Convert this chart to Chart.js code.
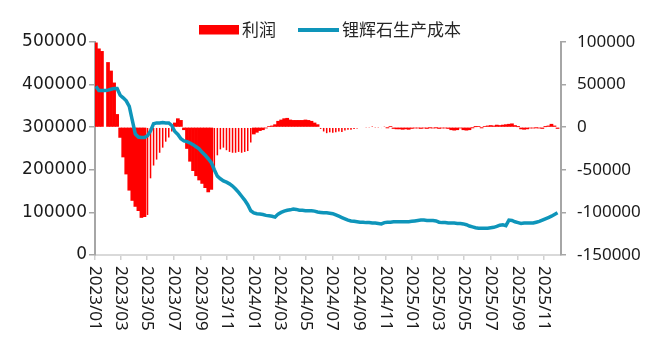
<!DOCTYPE html>
<html><head><meta charset="utf-8">
<script src="https://cdn.jsdelivr.net/npm/chart.js@4.4.0/dist/chart.umd.min.js"></script>
<style>html,body{margin:0;padding:0;background:#fff;}canvas{display:block;}</style>
</head><body>
<canvas id="c" width="650" height="351"></canvas>
<script>
const seriesNames = ['利润', '锂辉石生产成本'];
const startDate = '2023-01-01';
const firstObsOffsetDays = 2;   // first weekly observation (2023-01-03)
const obsStepDays = 7;          // weekly observations
const xTickLabels = ['2023/01','2023/03','2023/05','2023/07','2023/09','2023/11',
  '2024/01','2024/03','2024/05','2024/07','2024/09','2024/11',
  '2025/01','2025/03','2025/05','2025/07','2025/09','2025/11'];
const leftTicks = [0, 100000, 200000, 300000, 400000, 500000];
const rightTicks = [-150000, -100000, -50000, 0, 50000, 100000];

// 利润 (right axis)
const profit = [
  99000, 92000, 89000, null, 76000, 66000, 52000, 15000, -12000, -35000,
  -55000, -74000, -86000, -93000, -98000, -106000, -105000, -103000, -60000, -45000,
  -38000, -30000, -24000, -17000, -12000, -5000, 5000, 10000, 8000, -3000,
  -25000, -40000, -51000, -57000, -62000, -66000, -71000, -76000, -73000, -50000,
  -33000, -26000, -24000, -27000, -29000, -30000, -30000, -29000, -30000, -29000,
  -28000, -18000, -8000, -6000, -4000, -3000, -1000, 1000, 1500, 3000,
  7000, 8500, 10000, 10500, 8500, 8000, 8000, 8000, 8000, 8500,
  8000, 7000, 5000, 3000, -2000, -5000, -7000, -6000, -6500, -6000,
  -5000, -5500, -4000, -3000, -3000, -2000, -1500, -1000, -1000, -500,
  -500, 300, -500, -500, -1000, 500, -500, 1000, -1500, -2000,
  -2000, -2500, -2000, -2500, -1500, -1000, -1000, -1500, -1000, -1500,
  -500, -1000, -500, -1500, -1000, -1000, -1500, -3000, -3500, -3000,
  -1000, -3000, -3500, -3000, -500, 500, 1000, -500, 1000, 1500,
  2000, 1500, 2500, 2000, 2500, 3000, 3500, 4000, 2000, 500,
  -2000, -2500, -2000, -1000, -1000, -500, -1000, -1500, 500, 1500,
  3500, 1500, -1500
];

// 锂辉石生产成本 (left axis)
const cost = [
  396000, 386000, 386000, 386000, 387000, 389000, 391000, 391000, 375000, 369000,
  362000, 349000, 316000, 284000, 277000, 276000, 276000, 280000, 291000, 308000,
  310000, 310000, 311000, 310000, 310000, 304000, 290000, 283000, 273000, 268000,
  266000, 263000, 259000, 254000, 249000, 241000, 234000, 226000, 217000, 200000,
  185000, 179000, 174000, 171000, 167000, 162000, 155000, 147000, 138000, 129000,
  118000, 104000, 99000, 97000, 96000, 95000, 93000, 92000, 91000, 89000,
  96000, 100000, 103000, 105000, 106000, 108000, 107000, 105000, 105000, 104000,
  104000, 104000, 103000, 101000, 100000, 99000, 99000, 98000, 97000, 94000,
  91000, 88000, 85000, 82000, 80000, 79000, 78000, 77000, 77000, 76000,
  76000, 75000, 75000, 74000, 73000, 76000, 77000, 77000, 78000, 78000,
  78000, 78000, 78000, 78000, 79000, 80000, 81000, 82000, 82000, 81000,
  81000, 81000, 80000, 77000, 76000, 76000, 75000, 75000, 75000, 74000,
  74000, 73000, 71000, 68000, 66000, 64000, 63000, 63000, 63000, 63000,
  64000, 65000, 67000, 70000, 71000, 69000, 82000, 81000, 78000, 76000,
  74000, 75000, 75000, 75000, 75000, 77000, 79000, 82000, 85000, 88000,
  91000, 95000, 99000
];

// index ranges where the source bars are thin / spaced out (styling only)
const sparseRanges = [[17, 25], [39, 51], [74, 95]];

const DAY = 86400000;
const t0 = Date.parse(startDate + 'T00:00:00Z');
const obsDays = cost.map((_, i) => firstObsOffsetDays + obsStepDays * i);
const tickDays = xTickLabels.map(s => {
  const [y, m] = s.split('/').map(Number);
  return (Date.UTC(y, m - 1, 1) - t0) / DAY;
});
const xMax = (Date.UTC(2025, 11, 10) - t0) / DAY;
const isSparse = i => sparseRanges.some(([a, b]) => i >= a && i <= b);

const axisGrey = '#A6A6A6';
const textCol = '#1a1a1a';
const barRed = '#FF0000';
const lineBlue = '#0E95BA';

const xLabelPlugin = {
  id: 'xlabels',
  afterDraw(chart) {
    const ctx = chart.ctx, sx = chart.scales.x;
    ctx.save();
    ctx.font = '17px "Noto Sans"';
    ctx.fillStyle = textCol;
    ctx.textAlign = 'left';
    ctx.textBaseline = 'middle';
    xTickLabels.forEach((lab, k) => {
      const px = sx.getPixelForValue(tickDays[k]);
      ctx.save();
      ctx.translate(px, 266);
      ctx.rotate(Math.PI / 2);
      ctx.fillText(lab, 0, 0);
      ctx.restore();
    });
    ctx.restore();
  }
};

const legendPlugin = {
  id: 'customLegend',
  afterDraw(chart) {
    const ctx = chart.ctx;
    ctx.save();
    ctx.fillStyle = barRed;
    ctx.fillRect(199, 25, 40, 9.5);
    ctx.strokeStyle = lineBlue;
    ctx.lineWidth = 4;
    ctx.beginPath(); ctx.moveTo(298, 30); ctx.lineTo(339, 30); ctx.stroke();
    ctx.font = '17px "Noto Sans CJK SC"';
    ctx.fillStyle = '#262626';
    ctx.textAlign = 'left';
    ctx.textBaseline = 'middle';
    ctx.fillText(seriesNames[0], 242, 30);
    ctx.fillText(seriesNames[1], 342, 30);
    ctx.restore();
  }
};

const plainNum = v => String(v);

new Chart(document.getElementById('c'), {
  data: {
    datasets: [
      {
        type: 'line',
        label: seriesNames[1],
        data: cost.map((v, i) => ({ x: obsDays[i], y: v })),
        yAxisID: 'y',
        borderColor: lineBlue,
        backgroundColor: lineBlue,
        borderWidth: 3.5,
        pointRadius: 0,
        tension: 0,
        order: 0
      },
      {
        type: 'bar',
        label: seriesNames[0],
        data: profit.map((v, i) => ({ x: obsDays[i], y: isSparse(i) ? null : v })),
        yAxisID: 'y1',
        backgroundColor: barRed,
        borderWidth: 0,
        barPercentage: 1,
        categoryPercentage: 1,
        grouped: false,
        order: 1
      },
      {
        type: 'bar',
        label: seriesNames[0],
        data: profit.map((v, i) => ({ x: obsDays[i], y: isSparse(i) ? v : null })),
        yAxisID: 'y1',
        backgroundColor: barRed,
        borderWidth: 0,
        barPercentage: 0.5,
        categoryPercentage: 1,
        grouped: false,
        order: 2
      }
    ]
  },
  options: {
    responsive: false,
    animation: false,
    devicePixelRatio: 1,
    layout: { padding: { top: 42, left: 0, right: 0, bottom: 0 } },
    plugins: { legend: { display: false }, tooltip: { enabled: false } },
    scales: {
      x: {
        type: 'linear',
        offset: false,
        min: 0,
        max: xMax,
        afterBuildTicks(scale) { scale.ticks = tickDays.map(v => ({ value: v })); },
        afterFit(scale) { scale.height = 96; },
        ticks: { display: false },
        grid: { display: true, offset: false, drawOnChartArea: false, drawTicks: true, tickLength: 5, color: '#D0D0D0', lineWidth: 1.5 },
        border: { display: true, color: '#D9D9D9', width: 2 }
      },
      y: {
        type: 'linear',
        position: 'left',
        min: 0,
        max: 500000,
        afterBuildTicks(scale) { scale.ticks = leftTicks.map(v => ({ value: v })); },
        afterFit(scale) { scale.width = 95; },
        ticks: { color: textCol, font: { family: 'DejaVu Sans', size: 17 }, padding: 2, callback: plainNum },
        grid: { display: true, drawOnChartArea: false, drawTicks: true, tickLength: 6, color: axisGrey, lineWidth: 1.5 },
        border: { display: true, color: axisGrey, width: 2 }
      },
      y1: {
        type: 'linear',
        position: 'right',
        min: -150000,
        max: 100000,
        afterBuildTicks(scale) { scale.ticks = rightTicks.map(v => ({ value: v })); },
        afterFit(scale) { scale.width = 89; },
        ticks: { color: textCol, font: { family: 'Noto Sans', size: 17 }, padding: 11, callback: plainNum },
        grid: { display: true, drawOnChartArea: false, drawTicks: true, tickLength: 5, color: axisGrey, lineWidth: 1.5 },
        border: { display: true, color: axisGrey, width: 2 }
      }
    }
  },
  plugins: [xLabelPlugin, legendPlugin]
});
</script>
</body></html>
